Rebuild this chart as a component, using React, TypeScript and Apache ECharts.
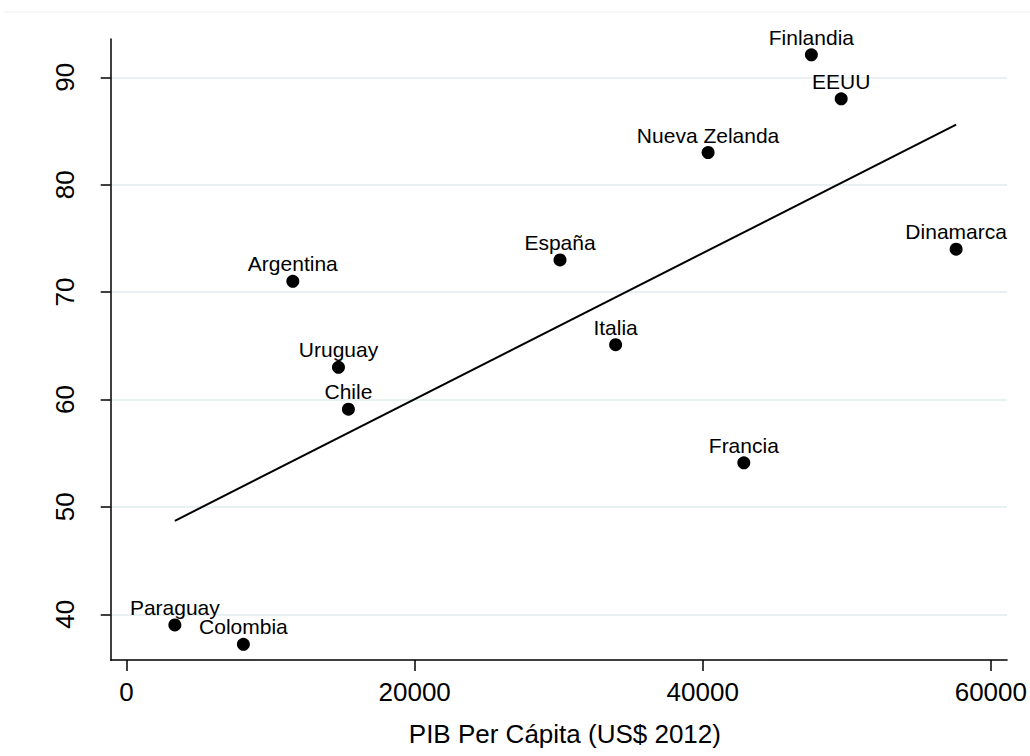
import React, { useEffect, useRef } from "react";
import * as echarts from "echarts";

const countries = [
  "Finlandia",
  "EEUU",
  "Nueva Zelanda",
  "España",
  "Dinamarca",
  "Argentina",
  "Italia",
  "Uruguay",
  "Chile",
  "Francia",
  "Paraguay",
  "Colombia",
];
const gdpPerCapita = [47540, 49610, 40370, 30090, 57590, 11540, 33950, 14710, 15400, 42850, 3350, 8110];
const scores = [92.1, 88, 83, 73, 74, 71, 65.1, 63, 59.1, 54.1, 39, 37.2];
const fitX = [3350, 57590];
const fitY = [48.7, 85.6];
const xTicks = [0, 20000, 40000, 60000];
const yTicks = [40, 50, 60, 70, 80, 90];
const xTitle = "PIB Per Cápita (US$ 2012)";

const FONT = "'Liberation Sans', Arial, Helvetica, sans-serif";

export default function App() {
  const ref = useRef<HTMLDivElement>(null);

  useEffect(() => {
    if (!ref.current) return;
    const chart = echarts.init(ref.current, null, { renderer: "svg" });

    const points = countries.map((c, i) => [gdpPerCapita[i], scores[i], c]);
    const fit = fitX.map((x, i) => [x, fitY[i]]);

    chart.setOption({
      animation: false,
      backgroundColor: "#ffffff",
      textStyle: { fontFamily: FONT },
      graphic: [
        {
          type: "line",
          shape: { x1: 4, y1: 12, x2: 1030, y2: 12 },
          style: { stroke: "#eeeeee", lineWidth: 1 },
          silent: true,
        },
      ],
      grid: { left: 110.7, right: 17, top: 39, bottom: 96, containLabel: false },
      xAxis: {
        type: "value",
        min: -1103,
        max: 61124,
        axisLine: { show: true, onZero: false, lineStyle: { color: "#000", width: 1.5 } },
        axisTick: {
          show: true,
          customValues: xTicks,
          length: 11,
          lineStyle: { color: "#000", width: 1.5 },
        },
        axisLabel: {
          customValues: xTicks,
          formatter: (v: number) => String(v),
          fontSize: 26,
          color: "#000",
          margin: 19,
          fontFamily: FONT,
          hideOverlap: false,
        },
        splitLine: { show: false },
        name: xTitle,
        nameLocation: "middle",
        nameGap: 61,
        nameTextStyle: { fontSize: 26, color: "#000", fontFamily: FONT, padding: [0, 0, 0, 12] },
      },
      yAxis: {
        type: "value",
        min: 35.74,
        max: 93.57,
        axisLine: { show: true, onZero: false, lineStyle: { color: "#000", width: 1.5 } },
        axisTick: {
          show: true,
          customValues: yTicks,
          length: 10,
          lineStyle: { color: "#000", width: 1.5 },
        },
        axisLabel: {
          customValues: yTicks,
          formatter: (v: number) => String(v),
          rotate: 90,
          fontSize: 26,
          color: "#000",
          margin: 33,
          fontFamily: FONT,
        },
        splitLine: { show: true, lineStyle: { color: "#e8f0f2", width: 2 } },
      },
      series: [
        {
          type: "line",
          data: fit,
          showSymbol: false,
          symbol: "none",
          lineStyle: { color: "#000", width: 2, opacity: 1 },
          z: 2,
          silent: true,
        },
        {
          type: "scatter",
          data: points,
          symbol: "circle",
          symbolSize: 13,
          itemStyle: { color: "#000", opacity: 1 },
          z: 3,
          label: {
            show: true,
            position: "top",
            distance: 0.5,
            formatter: (p: any) => p.data[2],
            fontSize: 21,
            color: "#000",
            opacity: 1,
            fontFamily: FONT,
          },
        },
      ],
    });

    return () => chart.dispose();
  }, []);

  return (
    <div
      ref={ref}
      style={{ position: "absolute", left: 0, top: 0, width: 1030, height: 756, background: "#fff" }}
    />
  );
}
